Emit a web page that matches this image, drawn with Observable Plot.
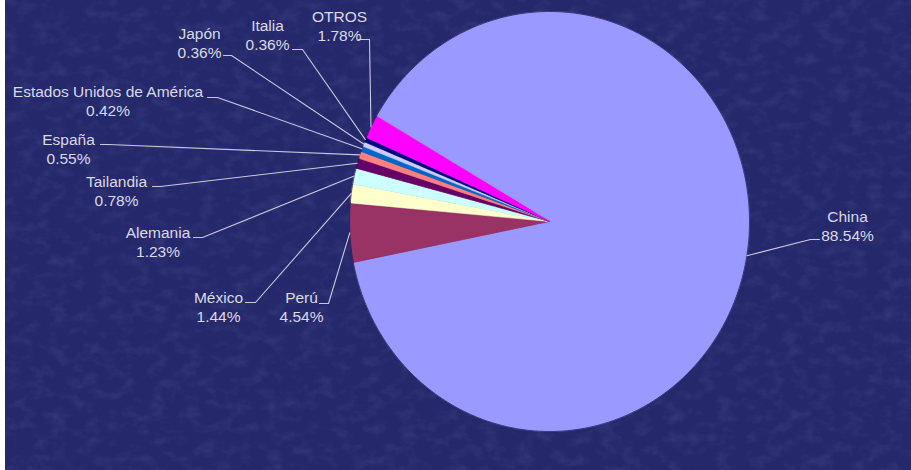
<!DOCTYPE html>
<html><head><meta charset="utf-8">
<script src="https://cdn.jsdelivr.net/npm/d3@7"></script>
<script src="https://cdn.jsdelivr.net/npm/@observablehq/plot@0.6"></script>
<style>
html,body{margin:0;padding:0;background:#262968;overflow:hidden;}
#chart svg{display:block;}
</style>
</head><body><div id="chart"></div>
<script>
// ---- data ----
const countries = ["China","Perú","México","Alemania","Tailandia","España","Estados Unidos de América","Japón","Italia","OTROS"];
const shares = [88.54, 4.54, 1.44, 1.23, 0.78, 0.55, 0.42, 0.36, 0.36, 1.78];
const colors = ["#9999FF","#993366","#FFFFCC","#CCFFFF","#660066","#FF8080","#0066CC","#CCCCFF","#000080","#FF00FF"];

// ---- layout (pixels) ----
const W = 911, H = 470;
const pie = {cx: 549, cy: 221, rx: 200, ry: 210, start: -60};
// label: text centre x, last-line baseline y, leader start x, knee x, leader y
const labelLayout = [
  {tx: 847,   ty: 240, lx0: 819, lx1: 810, ly: 239}, // China
  {tx: 301,   ty: 321, lx0: 319, lx1: 328, ly: 303}, // Perú
  {tx: 218,   ty: 321, lx0: 245, lx1: 255, ly: 302}, // México
  {tx: 157.5, ty: 256, lx0: 193, lx1: 202, ly: 237}, // Alemania
  {tx: 116,   ty: 205, lx0: 152, lx1: 160, ly: 186}, // Tailandia
  {tx: 68,    ty: 163, lx0: 100, lx1: 108, ly: 144}, // España
  {tx: 107.5, ty: 115, lx0: 207, lx1: 217, ly: 97},  // EEUU
  {tx: 199,   ty: 57,  lx0: 223, lx1: 231, ly: 55},  // Japón
  {tx: 267,   ty: 49,  lx0: 292, lx1: 302, ly: 49},  // Italia
  {tx: 339,   ty: 40,  lx0: 358, lx1: 369, ly: 39}   // OTROS
];

const table = countries.map((name, i) => ({name, value: shares[i]}));
const arcs = d3.pie().sort(null).value(d => d.value)
  .startAngle(pie.start * Math.PI / 180)
  .endAngle(pie.start * Math.PI / 180 + 2 * Math.PI)(table);

const px = a => pie.cx + pie.rx * Math.sin(a);
const py = a => pie.cy - pie.ry * Math.cos(a);

const slicePts = [], rimPts = [];
arcs.forEach(a => {
  const name = a.data.name;
  slicePts.push({name, x: pie.cx, y: pie.cy});
  const n = Math.max(2, Math.ceil((a.endAngle - a.startAngle) / (Math.PI / 360)));
  for (let k = 0; k <= n; k++) {
    const t = a.startAngle + (a.endAngle - a.startAngle) * k / n;
    slicePts.push({name, x: px(t), y: py(t)});
    rimPts.push({name, x: px(t), y: py(t)});
  }
});

const leaderPts = [], labels = [];
arcs.forEach((a, i) => {
  const L = labelLayout[i], name = a.data.name;
  const mid = (a.startAngle + a.endAngle) / 2;
  leaderPts.push({name, x: L.lx0, y: L.ly}, {name, x: L.lx1, y: L.ly}, {name, x: px(mid), y: py(mid)});
  labels.push({name, x: L.tx, y: L.ty, text: `${name}\n${a.data.value.toFixed(2)}%`});
});

const chart = Plot.plot({
  width: W, height: H,
  margin: 0,
  x: {domain: [0, W], range: [0, W], axis: null},
  y: {domain: [0, H], range: [0, H], axis: null},
  color: {domain: countries, range: colors},
  style: {background: "linear-gradient(to right, #ffffff 5px, #25286a 5px)", overflow: "visible"},
  marks: [
    Plot.line(slicePts, {x: "x", y: "y", z: "name", fill: "name", stroke: "name", strokeWidth: 0.6, curve: "linear-closed"}),
    Plot.line(rimPts, {x: "x", y: "y", z: "name", stroke: "#16174a", strokeWidth: 1, strokeOpacity: 0.7}),
    Plot.line(leaderPts, {x: "x", y: "y", z: "name", stroke: "#c9c9dc", strokeWidth: 1.1}),
    Plot.text(labels, {x: "x", y: "y", text: "text", lineAnchor: "bottom", lineHeight: 1.18,
      fill: "#dadae8", fontSize: 15.5, fontFamily: "Liberation Sans, Arial, sans-serif", textAnchor: "middle"})
  ]
});

// subtle mottled texture behind the marks
const ns = "http://www.w3.org/2000/svg";
const defs = document.createElementNS(ns, "defs");
defs.innerHTML = `<filter id="tex" x="0" y="0" width="100%" height="100%">
  <feTurbulence type="fractalNoise" baseFrequency="0.06 0.09" numOctaves="3" seed="7"/>
  <feColorMatrix type="matrix" values="0 0 0 0 0.2  0 0 0 0 0.22  0 0 0 0 0.52  0 0 0 1.0 -0.45"/>
</filter>`;
const tex = document.createElementNS(ns, "rect");
tex.setAttribute("x", 5); tex.setAttribute("y", 0);
tex.setAttribute("width", W - 5); tex.setAttribute("height", H);
tex.setAttribute("filter", "url(#tex)");
tex.setAttribute("opacity", "0.35");
chart.insertBefore(tex, chart.firstChild);
chart.insertBefore(defs, chart.firstChild);

document.getElementById("chart").appendChild(chart);
</script>
</body></html>
